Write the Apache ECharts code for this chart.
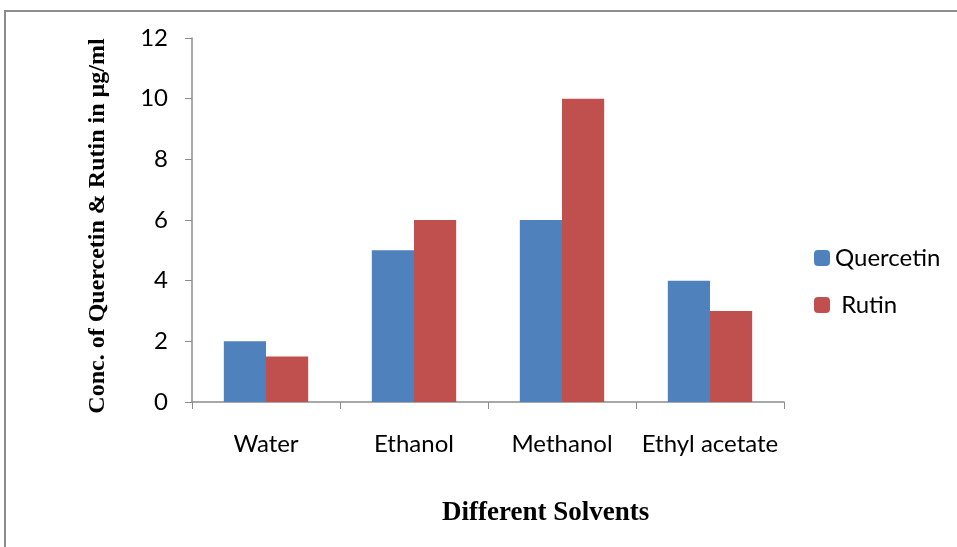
<!DOCTYPE html>
<html><head><meta charset="utf-8">
<script src="https://cdn.jsdelivr.net/npm/echarts@6/dist/echarts.min.js"></script>
<style>html,body{margin:0;padding:0;background:#fff}#c{width:957px;height:547px}</style>
</head><body><div id="c"></div>
<script>
var categories = ['Water', 'Ethanol', 'Methanol', 'Ethyl acetate'];
var quercetin = [2, 5, 6, 4];
var rutin = [1.5, 6, 10, 3];
var yTicks = {min: 0, max: 12, interval: 2};

var chart = echarts.init(document.getElementById('c'));
var labelFont = 'Lato, "Open Sans", sans-serif';
chart.setOption({
  animation: false,
  backgroundColor: '#fff',
  graphic: [
    {type: 'rect', shape: {x: 5, y: 11, width: 1000, height: 600}, style: {fill: 'none', stroke: '#8c8c8c', lineWidth: 2}},
    {type: 'text', left: 442, top: 500, style: {text: 'Different Solvents', font: 'bold 27px "Liberation Serif", serif', fill: '#000'}},
    {type: 'text', x: 98, y: 226, rotation: Math.PI / 2, style: {text: 'Conc. of Quercetin & Rutin in µg/ml', font: 'bold 24px "Liberation Serif", serif', fill: '#000', align: 'center', verticalAlign: 'middle'}}
  ],
  legend: {
    orient: 'vertical', left: 809, top: 241, itemWidth: 16, itemHeight: 16, itemGap: 23,
    textStyle: {fontFamily: labelFont, fontSize: 24, color: '#000'},
    data: [{name: 'Quercetin'}, {name: 'Rutin'}],
    formatter: function (n) { return n === 'Rutin' ? ' ' + n : n; }
  },
  grid: {left: 192, right: 173, top: 38, bottom: 145},
  xAxis: {
    type: 'category', data: categories,
    axisLine: {lineStyle: {color: '#8c8c8c', width: 1.5}},
    axisTick: {show: true, length: 7, lineStyle: {color: '#8c8c8c'}},
    axisLabel: {fontFamily: labelFont, fontSize: 24, color: '#000', margin: 30, interval: 0}
  },
  yAxis: {
    type: 'value', min: yTicks.min, max: yTicks.max, interval: yTicks.interval,
    axisLine: {show: true, lineStyle: {color: '#8c8c8c', width: 1.5}},
    axisTick: {show: true, length: 7, lineStyle: {color: '#8c8c8c'}},
    splitLine: {show: false},
    axisLabel: {fontFamily: labelFont, fontSize: 24, color: '#000', margin: 24}
  },
  series: [
    {name: 'Quercetin', type: 'bar', data: quercetin, barGap: '0%', barCategoryGap: '43%', itemStyle: {color: '#4F81BD'}},
    {name: 'Rutin', type: 'bar', data: rutin, itemStyle: {color: '#C0504D'}}
  ]
});
</script></body></html>
